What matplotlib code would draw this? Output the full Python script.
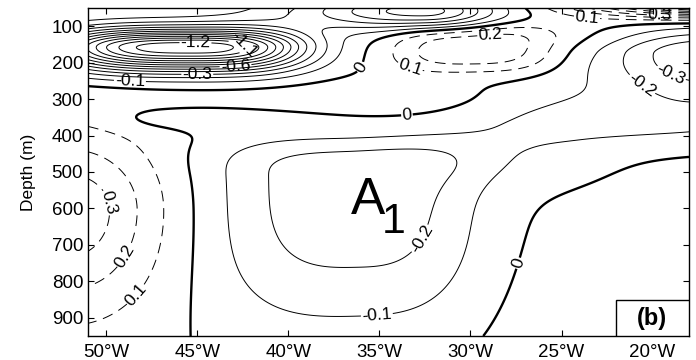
import numpy as np
import matplotlib
matplotlib.use("Agg")
import matplotlib.pyplot as plt
from matplotlib.patches import Rectangle

plt.rcParams['font.family'] = ['Liberation Sans', 'DejaVu Sans']

# ---- axis extents / ticks ----
lon_min, lon_max = -51.0, -18.0
dep_min, dep_max = 50.0, 950.0
xtick_vals = [-50, -45, -40, -35, -30, -25, -20]
xtick_labels = ['50°W', '45°W', '40°W', '35°W', '30°W', '25°W', '20°W']
ytick_vals = [100, 200, 300, 400, 500, 600, 700, 800, 900]

# ---- field: anomaly centres (asymmetric blobs) ----
blob_name = ['N1 core', 'N1 surface', 'P1', 'tongue', 'P2', 'A1', 'A1 NE', 'A1 west',
             'band', 'N3', 'P3', 'P4', 'bridge']
blob_amp  = [-1.28, -0.55, 0.28, 0.05, 0.37, -0.26, -0.08, -0.07, -0.14, -0.42, 1.00, 0.11, 0.06]
blob_lon  = [-45.5, -32.5, -29.9, -37.0, -52.0, -36.3, -29.0, -47.0, -24.0, -16.5, -17.0, -14.0, -24.0]
blob_dep  = [158.0, 60.0, 156.0, 300.0, 605.0, 515.0, 440.0, 350.0, 360.0, 175.0, 35.0, 1050.0, 130.0]
blob_sxw  = [5.7, 5.0, 3.5, 12.0, 3.4, 6.0, 3.5, 2.5, 4.0, 4.4, 4.5, 8.5, 2.5]
blob_sxe  = [4.9, 2.8, 3.5, 7.0, 3.4, 5.3, 4.0, 6.0, 8.0, 4.4, 4.5, 8.5, 2.5]
blob_szu  = [36.0, 40.0, 50.0, 40.0, 150.0, 85.0, 45.0, 25.0, 60.0, 45.0, 25.0, 300.0, 40.0]
blob_szd  = [44.0, 35.0, 55.0, 35.0, 195.0, 310.0, 70.0, 25.0, 45.0, 90.0, 25.0, 300.0, 40.0]
blob_px   = [3.0, 2.0, 3.0, 2.0, 2.0, 3.0, 2.0, 2.0, 2.0, 2.0, 2.0, 2.0, 2.0]
blob_pz   = [2.0, 2.0, 3.0, 2.0, 2.0, 3.0, 2.0, 2.0, 2.0, 2.0, 2.0, 2.0, 2.0]

neg_levels = [-1.5, -1.4, -1.3, -1.2, -1.1, -1.0, -0.9, -0.8, -0.7, -0.6, -0.5, -0.4, -0.3, -0.2, -0.1]
pos_levels = [0.1, 0.2, 0.3, 0.4, 0.5, 0.6, 0.7, 0.8, 0.9, 1.0, 1.1]

# contour-label hints (lon, depth)
label_lon = [-45.1, -42.4, -42.9, -45.0, -48.7, -36.0, -33.5, -26.7, -28.9, -33.3,
             -23.6, -19.6, -18.9, -21.2, -50.3, -49.6, -48.4, -32.2, -35.2]
label_dep = [153, 147, 207, 235, 254, 213, 336, 761, 131, 210,
             76, 71, 221, 303, 589, 712, 835, 698, 848]

lon = np.linspace(lon_min, lon_max, 331)
dep = np.linspace(dep_min, dep_max, 361)
L, D = np.meshgrid(lon, dep)
F = np.zeros_like(L)
for a, l0, d0, sw, se, su, sd, px, pz in zip(blob_amp, blob_lon, blob_dep, blob_sxw, blob_sxe,
                                             blob_szu, blob_szd, blob_px, blob_pz):
    sx = np.where(L < l0, sw, se)
    sz = np.where(D < d0, su, sd)
    F += a * np.exp(-0.5 * np.abs((L - l0) / sx) ** px) * np.exp(-0.5 * np.abs((D - d0) / sz) ** pz)

fig = plt.figure(figsize=(6.96, 3.6), dpi=100)
ax = fig.add_axes([88 / 696, 24 / 360, 601 / 696, 328 / 360])

c_neg = ax.contour(L, D, F, levels=neg_levels, colors='k', linewidths=0.7, linestyles='solid')
c_zero = ax.contour(L, D, F, levels=[0.0], colors='k', linewidths=1.7, linestyles='solid')
c_pos = ax.contour(L, D, F, levels=pos_levels, colors='k', linewidths=0.7,
                   linestyles=[(0, (11, 7))])

ax.set_xlim(lon_min, lon_max)
ax.set_ylim(dep_max, dep_min)


def nearest_set(x, y):
    best = None
    for cs in (c_neg, c_zero, c_pos):
        for seg_list in cs.allsegs:
            for seg in seg_list:
                if len(seg) == 0:
                    continue
                dx = (seg[:, 0] - x) / (lon_max - lon_min)
                dy = (seg[:, 1] - y) / (dep_max - dep_min)
                d = np.min(dx * dx + dy * dy)
                if best is None or d < best[0]:
                    best = (d, cs)
    return best[1]


groups = {id(c_neg): [], id(c_zero): [], id(c_pos): []}
for (x, y) in zip(label_lon, label_dep):
    groups[id(nearest_set(x, y))].append((x, y))
for cs in (c_neg, c_zero, c_pos):
    if groups[id(cs)]:
        ax.clabel(cs, manual=groups[id(cs)], fmt='%g', fontsize=12.5, inline=True, inline_spacing=1)

ax.set_xticks(xtick_vals)
ax.set_xticklabels(xtick_labels)
ax.set_yticks(ytick_vals)
ax.tick_params(direction='in', top=True, right=True, labelsize=13.5, length=4, width=0.8)
ax.tick_params(axis='x', pad=6)
for s in ax.spines.values():
    s.set_linewidth(1.0)
ax.set_ylabel('Depth (m)', fontsize=12.5, labelpad=11)

ax.text(-35.6, 578, 'A', fontsize=37, ha='center', va='center')
ax.text(-34.2, 636, '1', fontsize=31, ha='center', va='center')

ax.add_patch(Rectangle((0.878, 0.0), 0.122, 0.11, transform=ax.transAxes,
                       facecolor='white', edgecolor='k', linewidth=1.0, zorder=5))
ax.text(0.939, 0.052, '(b)', transform=ax.transAxes, fontsize=17, fontweight='bold',
        ha='center', va='center', zorder=6)

fig.savefig('out.png', dpi=100)
